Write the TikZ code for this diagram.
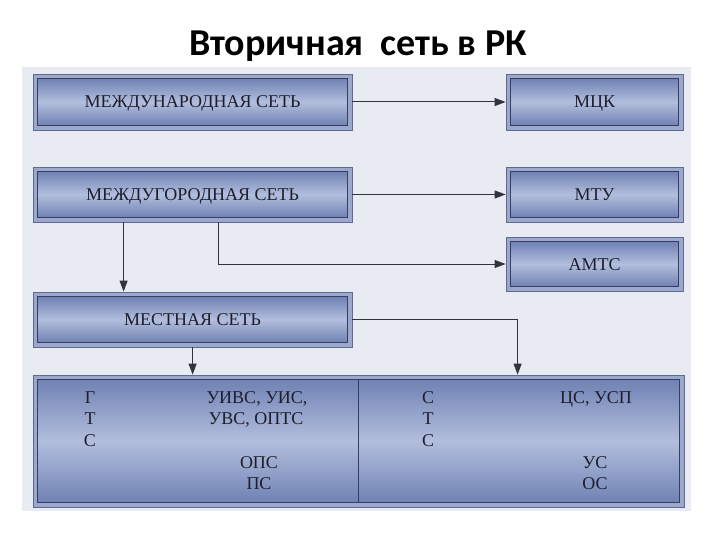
\documentclass[tikz,border=0pt]{standalone}
\usepackage{fontspec}
\setmainfont{Liberation Serif}
\newfontfamily\titlefont{Carlito}
\usetikzlibrary{arrows.meta}
\definecolor{panel}{RGB}{232,235,242}
\definecolor{frame}{RGB}{155,168,204}
\definecolor{frameline}{RGB}{95,105,145}
\definecolor{innerline}{RGB}{55,62,100}
\definecolor{shadeA}{RGB}{112,130,180}
\definecolor{shadeB}{RGB}{178,190,221}
\definecolor{txt}{RGB}{30,30,45}
\definecolor{conn}{RGB}{50,52,60}
\tikzset{
  box/.style={draw=frameline, line width=0.8pt, fill=frame, inner sep=0pt,
    text=txt, font=\fontsize{18}{20}\selectfont},
  innerbox/.style={draw=innerline, line width=0.9pt, top color=shadeA, bottom color=shadeA, middle color=shadeB},
  lbl/.style={text=txt, font=\fontsize{18}{20}\selectfont, inner sep=0pt, anchor=base},
  arr/.style={draw=conn, line width=1pt, -{Triangle[length=11pt,width=8pt]}},
}
\newcommand{\innerrect}[1]{\draw[innerbox] ([shift={(5,5)}]#1.north west) rectangle ([shift={(-5,-5)}]#1.south east);}
\begin{document}
\begin{tikzpicture}[x=1pt,y=-1pt]
\useasboundingbox (0,0) rectangle (720,540);
\fill[white] (0,0) rectangle (720,540);
\fill[panel] (22,67) rectangle (691,511);
\node[anchor=base, inner sep=0pt, font=\titlefont\bfseries\fontsize{38}{42}\selectfont] (title) at (358,56) {Вторичная\ \ сеть в РК};
% boxes (outer frames)
\node[box, minimum width=319pt, minimum height=56pt] (n1) at (192.5,102) {};
\node[box, minimum width=177pt, minimum height=56pt] (mck) at (594.5,102) {};
\node[box, minimum width=319pt, minimum height=55pt] (n2) at (192.5,194.5) {};
\node[box, minimum width=177pt, minimum height=55pt] (mtu) at (594.5,194.5) {};
\node[box, minimum width=177pt, minimum height=54pt] (amts) at (594.5,264) {};
\node[box, minimum width=319pt, minimum height=55pt] (loc) at (192.5,319.5) {};
\node[box, minimum width=651pt, minimum height=132pt] (bot) at (358.5,441) {};
\foreach \n in {n1,mck,n2,mtu,amts,loc,bot} {\innerrect{\n}}
\draw[innerline, line width=0.9pt] (358,380) -- (358,502);
% texts
\node[lbl] (t1) at ([yshift=-6pt]n1.center) {МЕЖДУНАРОДНАЯ СЕТЬ};
\node[lbl] (t2) at ([yshift=-6pt]mck.center) {МЦК};
\node[lbl] (t3) at ([yshift=-6pt]n2.center) {МЕЖДУГОРОДНАЯ СЕТЬ};
\node[lbl] (t4) at ([yshift=-6pt]mtu.center) {МТУ};
\node[lbl] (t5) at ([yshift=-6pt]amts.center) {АМТС};
\node[lbl] (t6) at ([yshift=-6pt]loc.center) {МЕСТНАЯ СЕТЬ};
% bottom box text
\node[lbl] (g1) at (90,403) {Г};
\node[lbl] (g2) at (90,424) {Т};
\node[lbl] (g3) at (90,446) {С};
\node[lbl] (u1) at (257,403) {УИВС, УИС,};
\node[lbl] (u2) at (256,424) {УВС, ОПТС};
\node[lbl] (u3) at (259,468) {ОПС};
\node[lbl] (u4) at (259,489) {ПС};
\node[lbl] (s1) at (428,403) {С};
\node[lbl] (s2) at (428,424) {Т};
\node[lbl] (s3) at (428,446) {С};
\node[lbl] (c1) at (596,403) {ЦС, УСП};
\node[lbl] (c2) at (595,468) {УС};
\node[lbl] (c3) at (595,489) {ОС};
% connectors
\draw[arr] (n1.east) -- (mck.west);
\draw[arr] (n2.east) -- (mtu.west);
\draw[arr] ([xshift=91pt]n2.south west) -- ([xshift=91pt]loc.north west);
\draw[arr] ([xshift=186pt]n2.south west) |- (amts.west);
\draw[arr] ([xshift=160pt]loc.south west) -- ([xshift=160pt]bot.north west);
\draw[arr] (loc.east) -| ([xshift=485pt]bot.north west);
\end{tikzpicture}
\end{document}
